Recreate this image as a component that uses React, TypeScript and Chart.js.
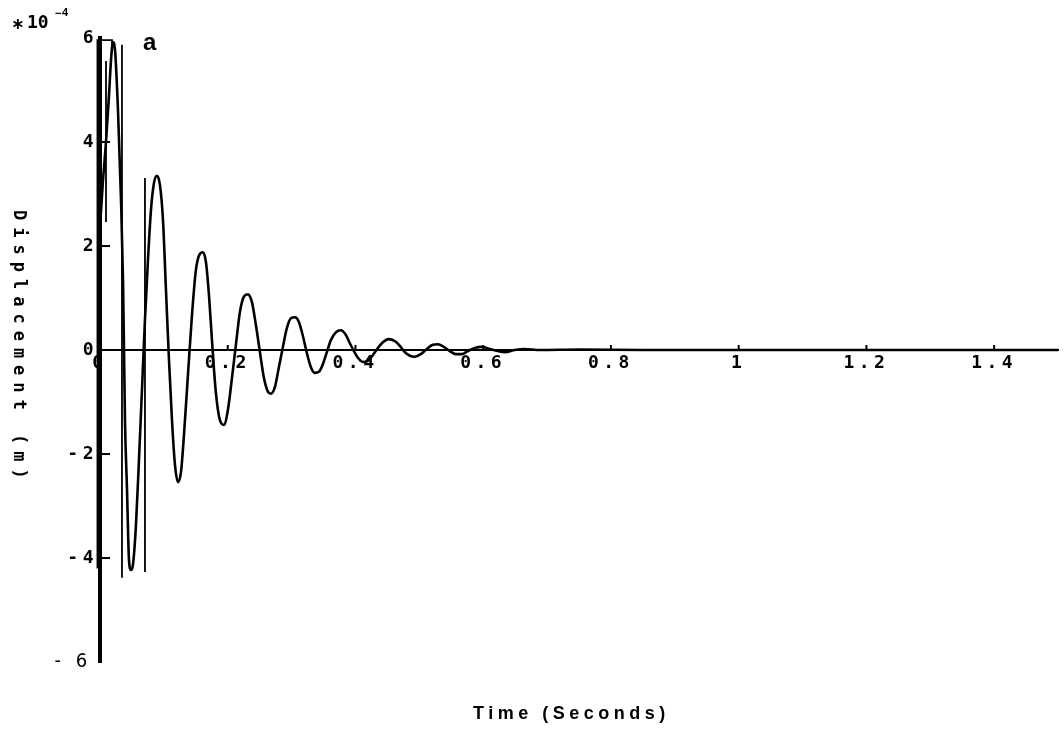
import { useEffect, useRef } from "react";
import { Chart, registerables } from "chart.js";

Chart.register(...registerables);

// Time (s) and displacement (x 10^-4 m)
const timeS = [
  0.0, 0.0047, 0.0094, 0.0141, 0.0172, 0.0203, 0.0235, 0.0282, 0.0329, 0.036,
  0.0376, 0.0391, 0.0423, 0.0454, 0.0485, 0.0516, 0.0563, 0.061, 0.0657, 0.0704,
  0.0751, 0.0798, 0.0845, 0.0892, 0.0939, 0.0986, 0.1033, 0.108, 0.1127, 0.1174,
  0.1221, 0.1268, 0.1315, 0.1377, 0.144, 0.1502, 0.1565, 0.1612, 0.1659, 0.1706,
  0.1753, 0.1815, 0.1878, 0.1941, 0.2003, 0.2066, 0.2128, 0.2191, 0.2254, 0.2316,
  0.2379, 0.2441, 0.2504, 0.2567, 0.2629, 0.2676, 0.2739, 0.2801, 0.2864, 0.2926,
  0.2989, 0.3052, 0.3114, 0.3177, 0.3239, 0.3302, 0.3365, 0.3427, 0.349, 0.3552,
  0.3615, 0.3693, 0.3772, 0.385, 0.3912, 0.3975, 0.4038, 0.4116, 0.4194, 0.4272,
  0.4351, 0.4429, 0.4523, 0.4617, 0.4695, 0.4773, 0.4851, 0.493, 0.5023, 0.5117,
  0.5211, 0.529, 0.5383, 0.5477, 0.5571, 0.5665, 0.5759, 0.5869, 0.5978, 0.6103,
  0.6228, 0.6338, 0.6495, 0.6651, 0.6886, 0.75, 0.85, 1.0, 1.2, 1.5,
];
const displacementE4 = [
  2.37, 3.27, 4.0, 4.9, 5.57, 5.92, 5.77, 4.6, 2.88, 1.35,
  0.0, -1.35, -2.69, -4.04, -4.23, -4.13, -3.37, -2.12, -0.77, 0.58,
  1.73, 2.69, 3.21, 3.35, 3.17, 2.5, 1.15, -0.19, -1.35, -2.21,
  -2.54, -2.35, -1.63, -0.48, 0.67, 1.54, 1.85, 1.88, 1.69, 1.06,
  0.19, -0.83, -1.35, -1.44, -1.15, -0.54, 0.1, 0.73, 1.03, 1.07,
  0.92, 0.48, -0.04, -0.54, -0.8, -0.84, -0.71, -0.33, 0.06, 0.42,
  0.61, 0.63, 0.54, 0.27, -0.06, -0.33, -0.44, -0.42, -0.27, -0.04,
  0.19, 0.34, 0.38, 0.29, 0.13, -0.02, -0.15, -0.23, -0.21, -0.1,
  0.04, 0.15, 0.21, 0.17, 0.08, -0.04, -0.11, -0.13, -0.08, 0.02,
  0.1, 0.11, 0.06, -0.02, -0.08, -0.08, -0.02, 0.04, 0.06, 0.02,
  -0.02, -0.04, 0.0, 0.02, 0.0, 0.01, 0.0, 0.0, 0.0, 0.0,
];

// Stray vertical strokes of the original plotter trace
const strokeStartT = [0.0188, 0.0188, -0.004, -0.004];
const strokeStartY = [5.85, 5.96, 5.96, -4.2];
const strokeAT = [0.0094, 0.0094];
const strokeAY = [5.56, 2.46];
const strokeBT = [0.0344, 0.0344];
const strokeBY = [5.87, -4.38];
const strokeCT = [0.0704, 0.0704];
const strokeCY = [3.31, -4.27];

const xTicks = [0, 0.2, 0.4, 0.6, 0.8, 1, 1.2, 1.4];
const yTicks = [-6, -4, -2, 0, 2, 4, 6];
const yTickMarks = [-4, -2, 2, 4];

const MONO = "'DejaVu Sans Mono', monospace";
const NARROW = "'Liberation Sans Narrow', 'DejaVu Sans Condensed', sans-serif";
const SANS = "'Liberation Sans', Arial, sans-serif";

const zip = (xs: number[], ys: number[]) => xs.map((x, i) => ({ x, y: ys[i] }));

const decorPlugin = {
  id: "decor",
  beforeDraw(chart: any) {
    chart.ctx.letterSpacing = "4.5px";
  },
  afterDraw(chart: any) {
    const ctx = chart.ctx as CanvasRenderingContext2D;
    const xs = chart.scales.x;
    const ys = chart.scales.y;
    ctx.save();
    ctx.fillStyle = "#000";
    ctx.strokeStyle = "#000";
    ctx.lineWidth = 2;
    const x0 = xs.getPixelForValue(0);
    const y0 = ys.getPixelForValue(0);
    yTickMarks.forEach((v) => {
      const py = ys.getPixelForValue(v);
      ctx.beginPath();
      ctx.moveTo(x0, py);
      ctx.lineTo(x0 + 10, py);
      ctx.stroke();
    });
    xTicks.slice(1).forEach((v) => {
      const px = xs.getPixelForValue(v);
      ctx.beginPath();
      ctx.moveTo(px, y0);
      ctx.lineTo(px, y0 - 5);
      ctx.stroke();
    });

    (ctx as any).letterSpacing = "0px";
    ctx.textAlign = "left";
    ctx.textBaseline = "alphabetic";
    ctx.font = `bold 16px 'DejaVu Sans', sans-serif`;
    ctx.fillText("\u2217", 11, 29);
    ctx.font = `bold 18px ${MONO}`;
    ctx.fillText("10", 27, 28);
    ctx.font = `bold 11px ${SANS}`;
    ctx.fillText("\u2212", 55, 17);
    ctx.fillText("4", 62, 16);

    ctx.font = `bold 24px ${SANS}`;
    ctx.fillText("a", 143, 50);

    // y axis title, rotated clockwise
    ctx.save();
    ctx.translate(18, 210);
    ctx.rotate(Math.PI / 2);
    (ctx as any).letterSpacing = "7px";
    ctx.font = `bold 17px ${MONO}`;
    ctx.textBaseline = "middle";
    ctx.fillText("Displacement (m)", 0, 0);
    ctx.restore();

    (ctx as any).letterSpacing = "4.5px";
    ctx.font = `bold 18px ${SANS}`;
    ctx.fillText("Time (Seconds)", 473, 719);
    ctx.restore();
  },
};

export default function App() {
  const ref = useRef<HTMLCanvasElement>(null);
  useEffect(() => {
    if (!ref.current) return;
    const stroke = (data: any[], clip: any = undefined) => ({
      data,
      borderColor: "#000",
      borderWidth: 1.8,
      pointRadius: 0,
      tension: 0,
      fill: false,
      ...(clip === false ? { clip: false } : {}),
    });
    const chart = new Chart(ref.current, {
      type: "line",
      data: {
        datasets: [
          {
            data: zip(timeS, displacementE4),
            borderColor: "#000",
            borderWidth: 2.6,
            pointRadius: 0,
            cubicInterpolationMode: "monotone",
            fill: false,
          } as any,
          stroke(zip(strokeStartT, strokeStartY), false),
          stroke(zip(strokeAT, strokeAY)),
          stroke(zip(strokeBT, strokeBY)),
          stroke(zip(strokeCT, strokeCY)),
        ],
      },
      options: {
        animation: false,
        responsive: false,
        maintainAspectRatio: false,
        layout: { padding: { left: 0, right: 6, top: 38, bottom: 68 } },
        plugins: { legend: { display: false }, tooltip: { enabled: false } },
        scales: {
          x: {
            type: "linear",
            position: { y: 0 } as any,
            min: 0,
            max: 1.5,
            afterFit: (s: any) => {
              s.height = 0;
            },
            afterBuildTicks: (s: any) => {
              s.ticks = xTicks.map((v) => ({ value: v }));
            },
            grid: { display: true, drawOnChartArea: false, drawTicks: false },
            border: { display: true, width: 2, color: "#000" },
            ticks: {
              color: "#000",
              padding: 3,
              maxRotation: 0,
              autoSkip: false,
              font: { family: MONO, size: 18, weight: "bold" },
              callback: (v: any) => String(Number(Number(v).toFixed(1))),
            },
          },
          y: {
            type: "linear",
            min: -6,
            max: 6,
            afterFit: (s: any) => {
              s.width = 100;
            },
            afterBuildTicks: (s: any) => {
              s.ticks = yTicks.map((v) => ({ value: v }));
            },
            grid: { display: true, drawOnChartArea: false, drawTicks: false },
            border: { display: true, width: 4, color: "#000" },
            ticks: {
              color: "#000",
              padding: 2,
              autoSkip: false,
              font: ((c: any) =>
                c.tick && c.tick.value === -6
                  ? { family: NARROW, size: 20, weight: "normal" }
                  : { family: MONO, size: 18, weight: "bold" }) as any,
              callback: (v: any) => (Number(v) === -6 ? "- 6\u200A" : String(v)),
            },
          },
        },
      },
      plugins: [decorPlugin as any],
    });
    return () => chart.destroy();
  }, []);
  return (
    <div style={{ position: "fixed", left: 0, top: 0, width: 1064, height: 730, background: "#fff" }}>
      <canvas ref={ref} width={1064} height={730} style={{ display: "block" }} />
    </div>
  );
}
